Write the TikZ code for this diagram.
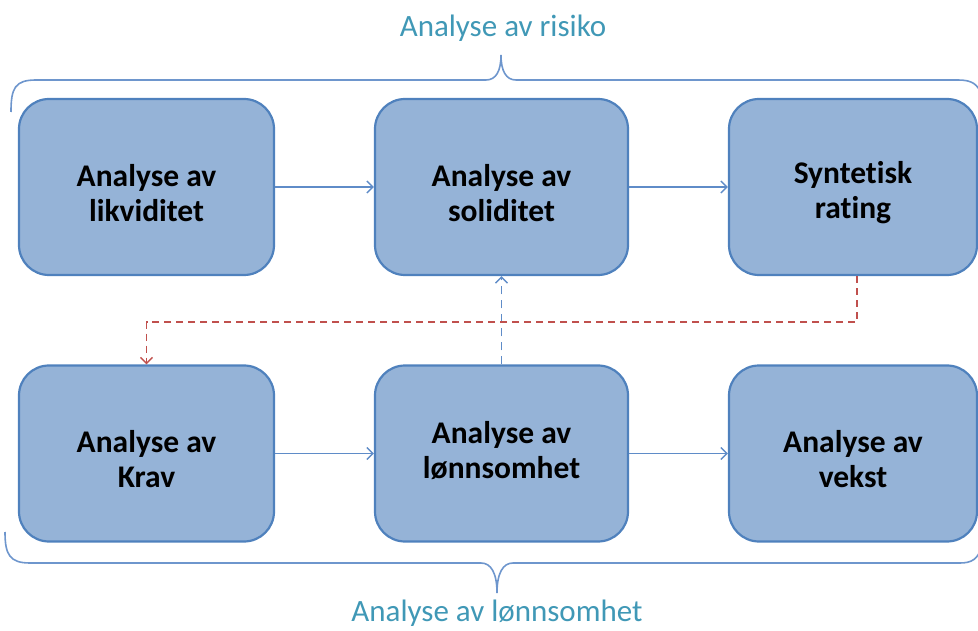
\documentclass[tikz,border=0pt]{standalone}
\usepackage{fontspec}
\setmainfont{Carlito}[Ligatures=NoCommon]
\usetikzlibrary{arrows.meta}
\definecolor{boxfill}{RGB}{149,179,215}
\definecolor{boxline}{RGB}{79,129,189}
\definecolor{linkblue}{RGB}{95,140,200}
\definecolor{linkred}{RGB}{192,80,77}
\definecolor{bracecol}{RGB}{110,150,205}
\definecolor{labelcol}{RGB}{64,152,182}
\tikzset{
  stagebox/.style={draw=boxline, line width=2.2pt, fill=boxfill, rounded corners=30pt,
    minimum width=#1, minimum height=176pt, align=center,
    font=\fontsize{31.5}{35}\selectfont\bfseries, text=black},
  flow/.style={draw=linkblue, line width=1.5pt, -{Straight Barb[length=6pt,width=12pt,line width=1.4pt]}},
  upflow/.style={flow, dash pattern=on 8pt off 6pt},
  backflow/.style={draw=linkred, line width=1.4pt, dash pattern=on 7pt off 5pt,
    -{Straight Barb[length=6pt,width=12pt,line width=1.4pt]}},
  bracket/.style={draw=bracecol, line width=1.6pt},
  groupname/.style={text=labelcol, font=\fontsize{31}{36}\selectfont}
}
\begin{document}
\begin{tikzpicture}[x=1pt,y=-1pt]
\useasboundingbox (0,0) rectangle (978,631);

% upper row
\node[stagebox=255pt] (likv) at (146.5,187) {\\[-1pt]Analyse av\\likviditet};
\node[stagebox=253pt] (soli) at (501.5,187) {\\[-1pt]Analyse av\\soliditet};
\node[stagebox=248pt] (rate) at (853,187) {\\[-1pt]Syntetisk\\rating};

% lower row
\node[stagebox=255pt] (krav) at (146.5,453.5) {\\[-1pt]Analyse av\\Krav};
\node[stagebox=253pt] (lonn) at (501.5,453.5) {Analyse av\\lønnsomhet\\[-27pt]};
\node[stagebox=248pt] (vekst) at (853,453.5) {\\[-1pt]Analyse av\\vekst};

% connectors
\draw[flow] (likv) -- (soli);
\draw[flow] (soli) -- (rate);
\draw[flow] (krav) -- (lonn);
\draw[flow] (lonn) -- (vekst);
\draw[upflow] (lonn.north) -- (soli.south);
\draw[backflow] ([xshift=4pt]rate.south) -- ++(0,46) -| (krav.north);

% group brackets
\draw[bracket] (11,112) .. controls (11,88) and (15,80) .. (36,80) -- (486,80)
  .. controls (496,80) and (501,71) .. (501,55)
  .. controls (501,71) and (506,80) .. (516,80) -- (958,80)
  .. controls (972,80) and (978,84) .. (982,96);
\draw[bracket] (5,532) .. controls (5,555) and (10,563) .. (30,563) -- (481,563)
  .. controls (491,563) and (497,573) .. (497,593)
  .. controls (497,573) and (503,563) .. (513,563) -- (960,563)
  .. controls (972,563) and (978,559) .. (982,546);

\node[groupname] (risiko) at (503,28) {Analyse av risiko};
\node[groupname] (lonnsomhet) at (497,613) {Analyse av lønnsomhet};
\end{tikzpicture}
\end{document}
